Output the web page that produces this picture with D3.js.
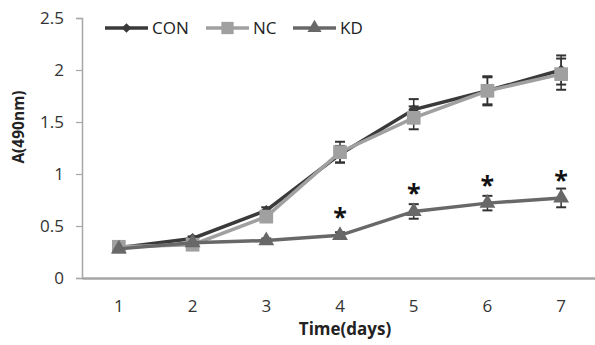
<!DOCTYPE html>
<html><head><meta charset="utf-8">
<script src="https://cdn.jsdelivr.net/npm/d3@7"></script>
<style>body{margin:0;background:#fff}svg{display:block}text{font-family:"Open Sans","Noto Sans",sans-serif}</style>
</head><body>
<svg id="c" width="595" height="345"></svg>
<script>
const days = [1,2,3,4,5,6,7];
const yTicks = [0,0.5,1,1.5,2,2.5];
const seriesNames = ["CON","NC","KD"];
const conValues = [0.29,0.38,0.65,1.19,1.62,1.80,2.00];
const conErr    = [0.02,0.02,0.03,0.08,0.10,0.13,0.14];
const ncValues  = [0.30,0.32,0.59,1.21,1.54,1.80,1.96];
const ncErr     = [0.02,0.02,0.03,0.10,0.11,0.14,0.15];
const kdValues  = [0.28,0.34,0.36,0.41,0.64,0.72,0.77];
const kdErr     = [0.02,0.02,0.02,0.03,0.07,0.07,0.09];
const kdStars   = ["","","","*","*","*","*"];

const svg = d3.select("#c");
const mL = 82, mR = 598, mT = 18, mB = 278;
const x = d3.scaleBand().domain(days).range([mL,mR]).padding(0);
const y = d3.scaleLinear().domain([0,2.5]).range([mB,mT]);
const cx = d => x(d) + x.bandwidth()/2;

// axes
const yAxis = svg.append("g").attr("transform",`translate(${mL},0)`)
  .call(d3.axisLeft(y).tickValues(yTicks).tickSize(6).tickPadding(12).tickFormat(d=>d));
yAxis.select(".domain").attr("stroke","#a6a6a6").attr("stroke-width",1.5);
yAxis.selectAll(".tick line").attr("stroke","#a6a6a6").attr("stroke-width",1.2);
yAxis.selectAll("text").attr("font-size",17).attr("fill","#333");

const xAxis = svg.append("g").attr("transform",`translate(0,${mB})`)
  .call(d3.axisBottom(x).tickSize(0).tickPadding(22));
xAxis.select(".domain").attr("stroke","#a6a6a6").attr("stroke-width",2.5);
xAxis.selectAll("text").attr("font-size",17).attr("fill","#333");

svg.append("text").attr("x",345).attr("y",335).attr("text-anchor","middle")
  .attr("font-size",17).attr("font-weight","bold").attr("fill","#222").text("Time(days)");
svg.append("text").attr("transform","translate(24,127) rotate(-90)").attr("text-anchor","middle")
  .attr("font-size",15.5).attr("font-weight","bold").attr("fill","#222").text("A(490nm)");

const series = [
  {name:"CON", v:conValues, e:conErr, color:"#3a3a3a", sym:d3.symbolDiamond2, size:75},
  {name:"NC",  v:ncValues,  e:ncErr,  color:"#a0a0a0", sym:d3.symbolSquare2,  size:240},
  {name:"KD",  v:kdValues,  e:kdErr,  color:"#686868", sym:d3.symbolTriangle2, size:180}
];
const line = d3.line().x((d,i)=>cx(days[i])).y(d=>y(d));

// error bars
series.forEach(s=>{
  const g = svg.append("g");
  days.forEach((d,i)=>{
    const X = cx(d), y1 = y(s.v[i]+s.e[i]), y2 = y(s.v[i]-s.e[i]);
    const c = "#333";
    g.append("line").attr("x1",X).attr("x2",X).attr("y1",y1).attr("y2",y2).attr("stroke",c).attr("stroke-width",1.5);
    g.append("line").attr("x1",X-5).attr("x2",X+5).attr("y1",y1).attr("y2",y1).attr("stroke",c).attr("stroke-width",2);
    g.append("line").attr("x1",X-5).attr("x2",X+5).attr("y1",y2).attr("y2",y2).attr("stroke",c).attr("stroke-width",2);
  });
});
// lines + markers
series.forEach(s=>{
  svg.append("path").datum(s.v).attr("d",line).attr("fill","none").attr("stroke",s.color).attr("stroke-width",3.5);
  svg.append("g").selectAll("path").data(s.v).join("path")
    .attr("transform",(d,i)=>`translate(${cx(days[i])},${y(d)})`)
    .attr("d",d3.symbol().type(s.sym).size(s.size)).attr("fill",s.color);
});
// asterisks
svg.append("g").selectAll("text").data(kdStars).join("text")
  .attr("x",(d,i)=>cx(days[i])).attr("y",(d,i)=>y(kdValues[i])-23)
  .attr("text-anchor","middle").attr("font-size",25).attr("font-weight","bold").attr("fill","#111")
  .attr("dy","0.56em")
  .text(d=>d);

// legend
const legX = [105,206,293];
series.forEach((s,i)=>{
  const g = svg.append("g").attr("transform",`translate(${legX[i]},28)`);
  g.append("line").attr("x1",0).attr("x2",43).attr("stroke",s.color).attr("stroke-width",3.5);
  g.append("path").attr("transform","translate(21.5,0)").attr("d",d3.symbol().type(s.sym).size(s.size*0.8)).attr("fill",s.color);
  g.append("text").attr("x",47).attr("y",0).attr("dy","0.36em").attr("font-size",17).attr("fill","#222").text(s.name);
});
</script>
</body></html>
